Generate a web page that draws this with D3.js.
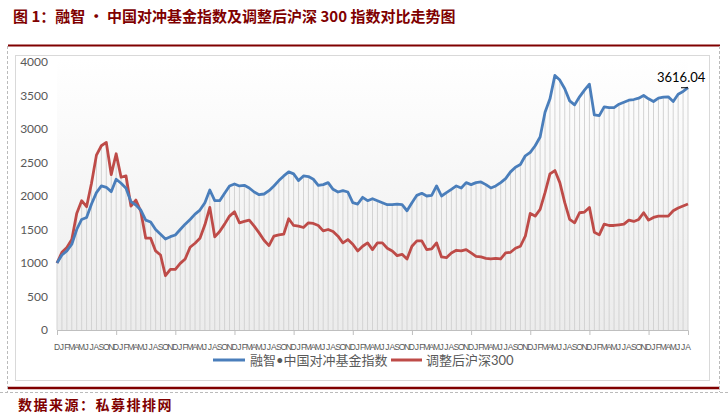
<!DOCTYPE html>
<html><head><meta charset="utf-8">
<script src="https://cdn.jsdelivr.net/npm/d3@7"></script>
<style>html,body{margin:0;padding:0;background:#fff;}svg{display:block;}</style>
</head><body>
<script>
// ---- data ----
const startYear = 2006, startMonth = 12; // first category: Dec 2006
const monthLetters = ["J","F","M","A","M","J","J","A","S","O","N","D"];
const yTicks = [0,500,1000,1500,2000,2500,3000,3500,4000];
const hedgeIndex = [1000,1120,1180,1280,1500,1650,1680,1880,2050,2150,2130,2065,2250,2190,2115,1915,1866,1790,1640,1612,1500,1430,1358,1393,1418,1500,1580,1650,1730,1790,1900,2090,1930,1930,2040,2150,2180,2150,
2160,2120,2060,2020,2030,2080,2150,2230,2300,2360,2330,2230,2300,2290,2250,2160,2170,2200,2100,2060,2080,2060,1900,1880,1980,1930,1960,1930,1900,1870,1870,1880,1870,1780,1900,2010,2040,2000,2010,2150,
2000,2050,2100,2150,2120,2200,2170,2200,2210,2170,2120,2150,2200,2260,2360,2430,2470,2600,2650,2750,2880,3250,3450,3800,3730,3600,3420,3360,3480,3580,3670,3210,3200,3330,3320,3320,3370,3400,3430,3440,3460,3500,3450,3410,3460,3475,3480,3410,3520,3560,3616.04];
const csi300Adj = [1000,1160,1230,1350,1740,1930,1840,2190,2610,2750,2800,2320,2630,2280,2300,1850,1940,1770,1370,1370,1180,1120,810,905,905,995,1060,1235,1295,1370,1570,1830,1390,1470,1580,1700,1765,1600,
1620,1640,1550,1450,1340,1260,1400,1420,1430,1660,1560,1550,1530,1600,1590,1560,1480,1500,1470,1400,1300,1350,1280,1180,1250,1300,1200,1300,1300,1220,1180,1110,1130,1060,1250,1330,1330,1200,1210,1300,
1090,1080,1150,1190,1180,1200,1150,1100,1090,1070,1060,1070,1060,1150,1160,1220,1250,1400,1740,1700,1800,2050,2330,2380,2200,1900,1650,1600,1750,1760,1830,1460,1420,1580,1560,1560,1570,1580,1640,1620,1650,1750,1640,1680,1700,1700,1700,1780,1820,1850,1880];
const seriesNames = ["融智•中国对冲基金指数","调整后沪深300"];
const lastLabel = "3616.04";

const n = hedgeIndex.length;
const categories = d3.range(n).map(i => monthLetters[(startMonth - 1 + i) % 12]);

// ---- drawing ----
const W = 728, H = 418;
const svg = d3.select("body").append("svg").attr("width", W).attr("height", H);
const darkRed = "#800000";
const blue = "#4A7EBB", red = "#BE4B48";

// title
svg.append("text").attr("x", 13).attr("y", 22)
  .attr("font-family", "'Noto Sans CJK SC', sans-serif").attr("font-weight", "bold")
  .attr("font-size", 15).attr("fill", darkRed)
  .text("图 1：融智 · 中国对冲基金指数及调整后沪深 300 指数对比走势图");

// frame lines
svg.append("line").attr("x1", 8).attr("x2", 720).attr("y1", 45.5).attr("y2", 45.5).attr("stroke", darkRed).attr("stroke-width", 2);
svg.append("line").attr("x1", 8).attr("x2", 720).attr("y1", 388).attr("y2", 388).attr("stroke", darkRed).attr("stroke-width", 2.5);
const dash = "3,2";
svg.append("line").attr("x1", 7.5).attr("x2", 7.5).attr("y1", 46).attr("y2", 392).attr("stroke", "#bbb").attr("stroke-dasharray", dash);
svg.append("line").attr("x1", 719.5).attr("x2", 719.5).attr("y1", 46).attr("y2", 392).attr("stroke", "#bbb").attr("stroke-dasharray", dash);
svg.append("line").attr("x1", 0).attr("x2", 728).attr("y1", 392.5).attr("y2", 392.5).attr("stroke", "#bbb").attr("stroke-dasharray", dash);
svg.append("rect").attr("x", 15.5).attr("y", 55.5).attr("width", 694).attr("height", 325).attr("fill", "#fff").attr("stroke", "#d9d9d9");

// footer
svg.append("text").attr("x", 18).attr("y", 410)
  .attr("font-family", "'Noto Sans CJK SC', sans-serif").attr("font-weight", "bold")
  .attr("font-size", 14).attr("letter-spacing", 1.5).attr("fill", darkRed)
  .text("数据来源：私募排排网");

// scales
const x = d3.scaleLinear().domain([0, n - 1]).range([57, 688]);
const y = d3.scaleLinear().domain([0, 4000]).range([330, 62]);

// plot background gradient
const defs = svg.append("defs");
const grad = defs.append("linearGradient").attr("id", "bg").attr("x1", 0).attr("x2", 0).attr("y1", 0).attr("y2", 1);
grad.append("stop").attr("offset", "0%").attr("stop-color", "#ffffff");
grad.append("stop").attr("offset", "100%").attr("stop-color", "#ececec");
svg.append("rect").attr("x", x(0)).attr("y", y(4000) - 4).attr("width", x(n - 1) - x(0)).attr("height", y(0) - y(4000) + 4).attr("fill", "url(#bg)");

// drop lines
svg.append("g").selectAll("line").data(d3.range(n)).join("line")
  .attr("x1", i => x(i)).attr("x2", i => x(i))
  .attr("y1", y(0)).attr("y2", i => y(Math.max(hedgeIndex[i], csi300Adj[i])))
  .attr("stroke", "#d3d3d3").attr("stroke-width", 1);

// y axis
const yAxis = svg.append("g").attr("transform", `translate(${x(0)},0)`)
  .call(d3.axisLeft(y).tickValues(yTicks).tickSize(0).tickPadding(9).tickFormat(d3.format("d")));
yAxis.select(".domain").remove();
yAxis.selectAll("text").attr("font-family", "Lato, 'Open Sans', sans-serif").attr("font-size", 12).attr("fill", "#595959");

// x axis
const xAxis = svg.append("g").attr("transform", `translate(0,${y(0)})`)
  .call(d3.axisBottom(x).tickValues(d3.range(0, n, 12)).tickSize(5).tickFormat(""));
xAxis.select(".domain").attr("stroke", "#bfbfbf");
xAxis.selectAll(".tick line").attr("stroke", "#bfbfbf");
svg.append("g").selectAll("text").data(categories).join("text")
  .attr("x", (d, i) => x(i)).attr("y", 350).attr("text-anchor", "middle")
  .attr("font-family", "'Liberation Sans Narrow', 'Liberation Sans', sans-serif")
  .attr("font-size", 8.5).attr("fill", "#595959").text(d => d);

// lines
const line = d3.line().x((d, i) => x(i)).y(d => y(d));
svg.append("path").datum(csi300Adj).attr("d", line).attr("fill", "none").attr("stroke", red).attr("stroke-width", 2.8).attr("stroke-linejoin", "round");
svg.append("path").datum(hedgeIndex).attr("d", line).attr("fill", "none").attr("stroke", blue).attr("stroke-width", 2.8).attr("stroke-linejoin", "round");

// end label
svg.append("text").attr("x", 657).attr("y", 82).attr("font-family", "Lato, 'Open Sans', sans-serif")
  .attr("font-size", 13).attr("fill", "#000").text(lastLabel);
svg.append("line").attr("x1", 681).attr("x2", x(n - 1)).attr("y1", y(hedgeIndex[n - 1])).attr("y2", y(hedgeIndex[n - 1]))
  .attr("stroke", "#000").attr("stroke-width", 1);

// legend
const leg = svg.append("g").attr("font-family", "Lato, 'Noto Sans CJK SC', sans-serif").attr("font-size", 13).attr("fill", "#595959");
[[213, 245, 250, blue, seriesNames[0]], [391, 422, 426, red, seriesNames[1]]].forEach(([a, b, t, c, s]) => {
  leg.append("line").attr("x1", a).attr("x2", b).attr("y1", 360).attr("y2", 360).attr("stroke", c).attr("stroke-width", 3);
  leg.append("text").attr("x", t).attr("y", 360).attr("dy", "0.35em").text(s);
});
</script>
</body></html>
